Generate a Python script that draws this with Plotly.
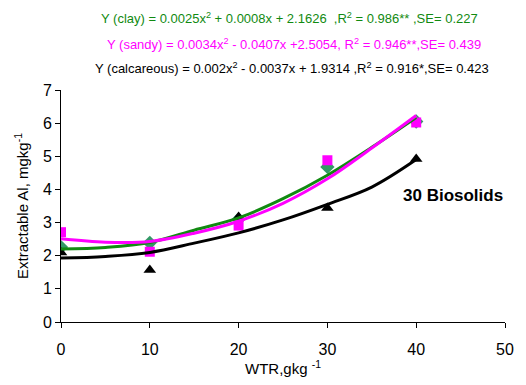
import plotly.graph_objects as go

# Observed data
wtr = [0, 10, 20, 30, 40]
clay_obs = [2.26, 2.39, 3.10, 4.68, 6.05]
sandy_obs = [2.71, 2.12, 2.91, 4.88, 6.02]
calc_obs = [2.10, 1.57, 3.17, 3.44, 4.92]

# Trend lines
fit_x = [0, 5, 10, 15, 20, 25, 30, 35, 40]
clay_fit = [2.20, 2.25, 2.40, 2.77, 3.14, 3.72, 4.43, 5.27, 6.17]
sandy_fit = [2.51, 2.41, 2.43, 2.68, 3.04, 3.58, 4.32, 5.25, 6.23]
calc_fit = [1.93, 1.98, 2.10, 2.38, 2.69, 3.08, 3.55, 4.07, 4.90]

eq_clay = "Y (clay) = 0.0025x<sup>2</sup> + 0.0008x + 2.1626  ,R<sup>2</sup> = 0.986** ,SE= 0.227"
eq_sandy = "Y (sandy) = 0.0034x<sup>2</sup> - 0.0407x +2.5054, R<sup>2</sup> = 0.946**,SE= 0.439"
eq_calc = "Y (calcareous) = 0.002x<sup>2</sup> - 0.0037x + 1.9314 ,R<sup>2</sup> = 0.916*,SE= 0.423"

GREEN = "#118a11"
DIAM = "#339966"
MAG = "#ff00ff"
BLACK = "#000000"

fig = go.Figure()
fig.add_trace(go.Scatter(x=wtr, y=clay_obs, mode="markers",
                         marker=dict(symbol="diamond", size=11, color=DIAM)))
fig.add_trace(go.Scatter(x=wtr, y=sandy_obs, mode="markers",
                         marker=dict(symbol="square", size=10, color=MAG)))
fig.add_trace(go.Scatter(x=wtr, y=calc_obs, mode="markers",
                         marker=dict(symbol="triangle-up", size=11, color=BLACK)))
fig.add_trace(go.Scatter(x=fit_x, y=calc_fit, mode="lines", line_shape="spline",
                         line=dict(color=BLACK, width=3)))
fig.add_trace(go.Scatter(x=fit_x, y=clay_fit, mode="lines", line_shape="spline",
                         line=dict(color=GREEN, width=3)))
fig.add_trace(go.Scatter(x=fit_x, y=sandy_fit, mode="lines", line_shape="spline",
                         line=dict(color=MAG, width=3)))

font = "Liberation Sans, Arial, sans-serif"
H = 385 - 90 - 62

def py(pix):
    return (322.7 - pix) / H

annots = [
    dict(text=eq_clay, x=(292 - 61) / 449, y=py(17), font=dict(color=GREEN, size=13)),
    dict(text=eq_sandy, x=(297 - 61) / 449, y=py(43), font=dict(color=MAG, size=13)),
    dict(text=eq_calc, x=(295 - 61) / 449, y=py(68), font=dict(color=BLACK, size=13)),
    dict(text="<b>30 Biosolids</b>", x=(457 - 61) / 449, y=py(196), font=dict(color=BLACK, size=17)),
]
for a in annots:
    fig.add_annotation(xref="paper", yref="paper", showarrow=False,
                       xanchor="center", yanchor="middle", **a)

fig.update_layout(
    width=526, height=385,
    margin=dict(l=61, r=16, t=90, b=62),
    paper_bgcolor="white", plot_bgcolor="white",
    showlegend=False,
    font=dict(family=font, color="black", size=16),
    xaxis=dict(range=[0, 50], tickvals=[0, 10, 20, 30, 40, 50], showgrid=False,
               zeroline=False, showline=True, linecolor="black", linewidth=1,
               ticks="outside", ticklen=5, tickcolor="black",
               tickfont=dict(size=16), ticklabelstandoff=8,
               title=dict(text="WTR,gkg <sup>-1</sup>", font=dict(size=15), standoff=4)),
    yaxis=dict(range=[0, 7], tickvals=[0, 1, 2, 3, 4, 5, 6, 7], showgrid=False,
               zeroline=False, showline=True, linecolor="black", linewidth=1,
               ticks="outside", ticklen=5, tickcolor="black",
               tickfont=dict(size=16),
               title=dict(text="Extractable Al, mgkg<sup>-1</sup>", font=dict(size=15), standoff=10)),
)

fig.write_html("out.html")
